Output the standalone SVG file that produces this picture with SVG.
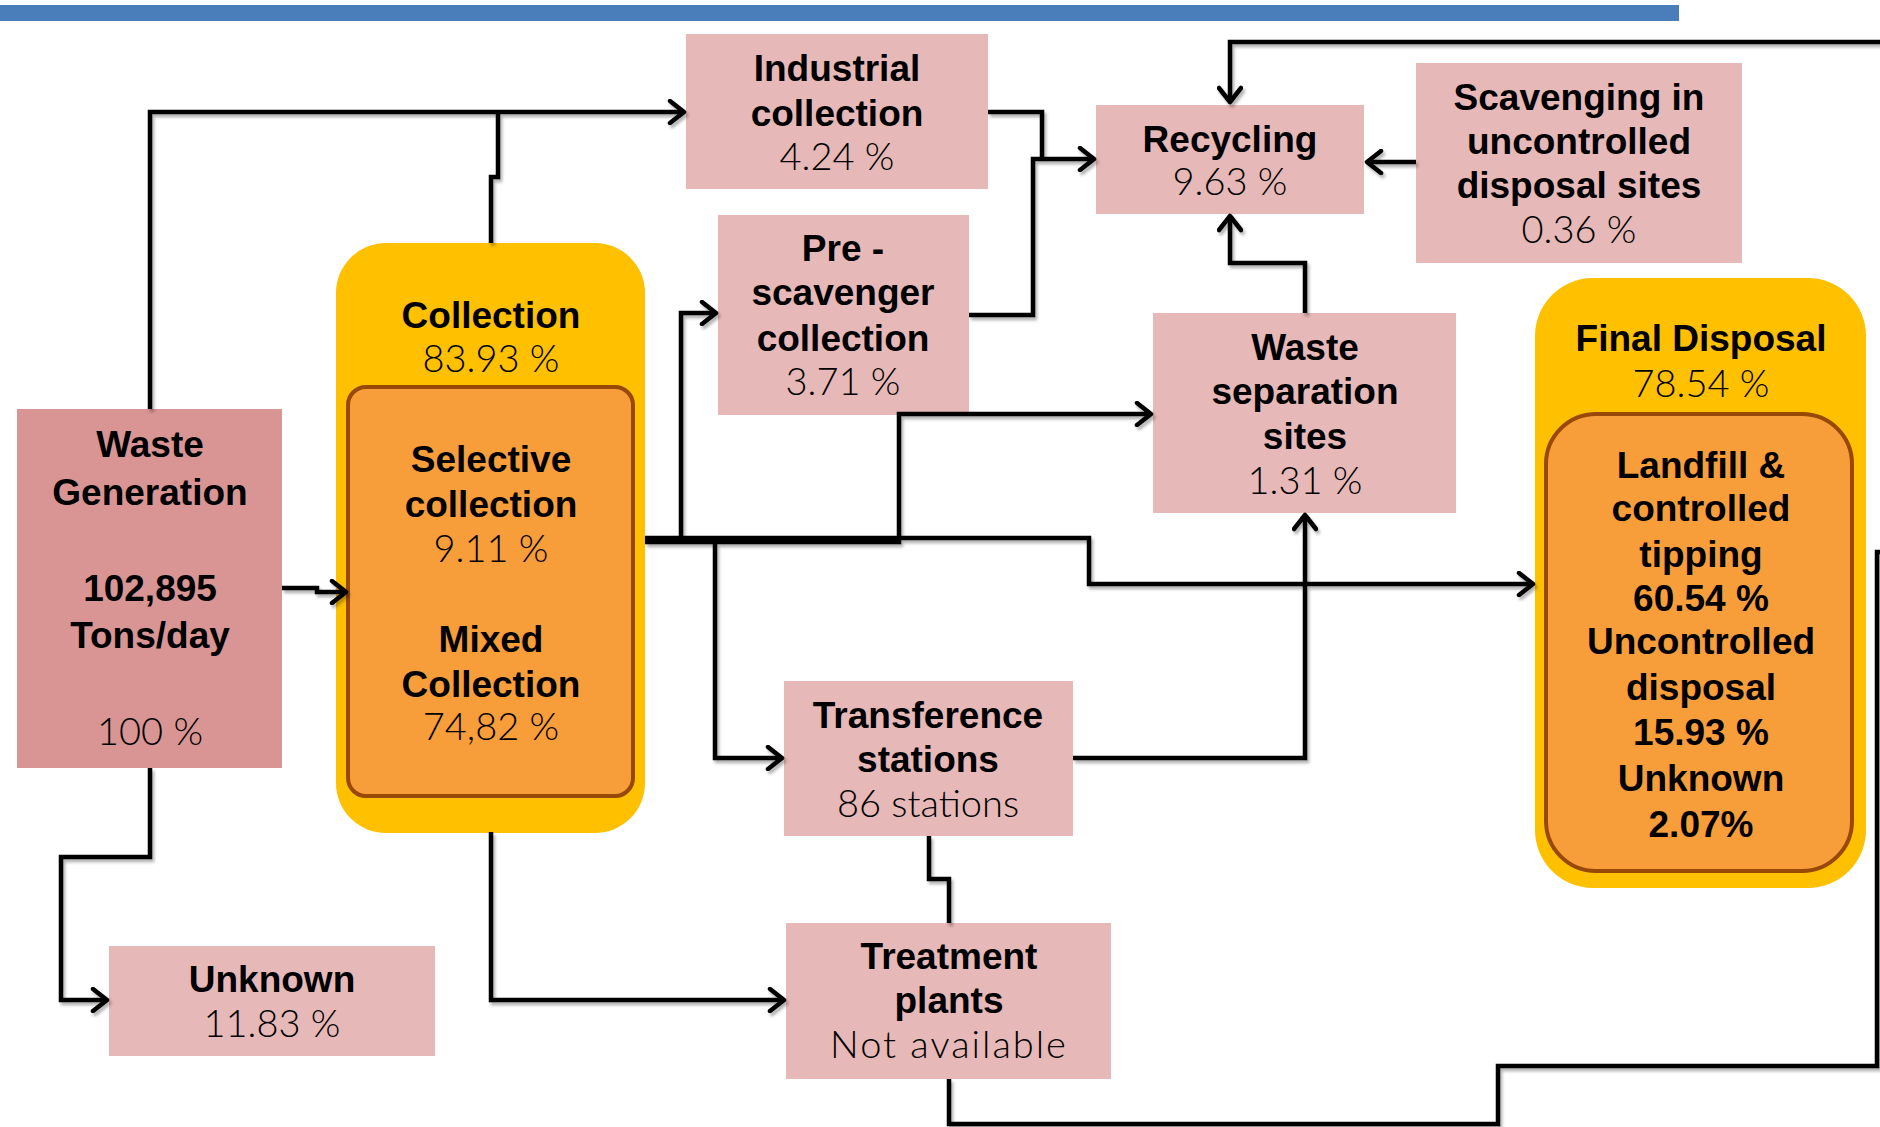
<svg xmlns="http://www.w3.org/2000/svg" width="1880" height="1127" viewBox="0 0 1880 1127">
<style>
.box{fill:#E6B8B7}
.gen{fill:#D99594}
.outer{fill:#FFC000}
.inner{fill:#F79D3A;stroke:#984807;stroke-width:4}
text{text-anchor:middle;fill:#000}
.b{font-family:"Liberation Sans",Arial,sans-serif;font-weight:bold;font-size:37px}
.l{font-family:Lato,"Liberation Sans",sans-serif;font-weight:300;font-size:38px}
.c path{fill:none;stroke:#000;stroke-width:4.5;stroke-linejoin:miter}
.a{marker-end:url(#arr)}
</style>
<defs>
<marker id="arr" viewBox="0 0 22 26" refX="19" refY="13" markerWidth="22" markerHeight="26" markerUnits="userSpaceOnUse" orient="auto">
<path d="M5,2 L19,13 L5,24" fill="none" stroke="#000" stroke-width="4.5" stroke-linecap="round" stroke-linejoin="round"/>
</marker>
<filter id="sh" x="-5%" y="-5%" width="110%" height="110%">
<feDropShadow dx="2" dy="3" stdDeviation="1.5" flood-color="#000" flood-opacity="0.3"/>
</filter>
</defs>
<rect x="0" y="5" width="1679" height="16" fill="#4A7EBB"/>

<g id="waste-generation">
<rect class="gen" x="17" y="409" width="265" height="359"/>
<text class="b" x="150" y="457" font-size="41">Waste</text>
<text class="b" x="150" y="505" font-size="41">Generation</text>
<text class="b" x="150" y="601" font-size="41">102,895</text>
<text class="b" x="150" y="648" font-size="41">Tons/day</text>
<text class="l" x="150" y="745" font-size="40">100 %</text>
</g>

<g id="collection">
<rect class="outer" x="336" y="243" width="309" height="590" rx="50"/>
<text class="b" x="491" y="328">Collection</text>
<text class="l" x="491" y="372">83.93 %</text>
<rect class="inner" x="348" y="387" width="285" height="409" rx="18"/>
<text class="b" x="491" y="472">Selective</text>
<text class="b" x="491" y="517">collection</text>
<text class="l" x="491" y="562">9.11 %</text>
<text class="b" x="491" y="652">Mixed</text>
<text class="b" x="491" y="697">Collection</text>
<text class="l" x="491" y="740">74,82 %</text>
</g>

<g id="industrial-collection">
<rect class="box" x="686" y="34" width="302" height="155"/>
<text class="b" x="837" y="81">Industrial</text>
<text class="b" x="837" y="126">collection</text>
<text class="l" x="837" y="170">4.24 %</text>
</g>

<g id="pre-scavenger-collection">
<rect class="box" x="718" y="215" width="251" height="200"/>
<text class="b" x="843" y="261">Pre -</text>
<text class="b" x="843" y="305">scavenger</text>
<text class="b" x="843" y="351">collection</text>
<text class="l" x="843" y="395">3.71 %</text>
</g>

<g id="recycling">
<rect class="box" x="1096" y="105" width="268" height="109"/>
<text class="b" x="1230" y="152">Recycling</text>
<text class="l" x="1230" y="195">9.63 %</text>
</g>

<g id="scavenging">
<rect class="box" x="1416" y="63" width="326" height="200"/>
<text class="b" x="1579" y="110">Scavenging in</text>
<text class="b" x="1579" y="154">uncontrolled</text>
<text class="b" x="1579" y="198">disposal sites</text>
<text class="l" x="1579" y="243">0.36 %</text>
</g>

<g id="waste-separation-sites">
<rect class="box" x="1153" y="313" width="303" height="200"/>
<text class="b" x="1305" y="360">Waste</text>
<text class="b" x="1305" y="404">separation</text>
<text class="b" x="1305" y="449">sites</text>
<text class="l" x="1305" y="494">1.31 %</text>
</g>

<g id="transference-stations">
<rect class="box" x="784" y="681" width="289" height="155"/>
<text class="b" x="928" y="728">Transference</text>
<text class="b" x="928" y="772">stations</text>
<text class="l" x="928" y="817">86 stations</text>
</g>

<g id="treatment-plants">
<rect class="box" x="786" y="923" width="325" height="156"/>
<text class="b" x="949" y="969">Treatment</text>
<text class="b" x="949" y="1013">plants</text>
<text class="l" x="949" y="1058" letter-spacing="2">Not available</text>
</g>

<g id="unknown">
<rect class="box" x="109" y="946" width="326" height="110"/>
<text class="b" x="272" y="992">Unknown</text>
<text class="l" x="272" y="1037">11.83 %</text>
</g>

<g id="final-disposal">
<rect class="outer" x="1535" y="278" width="331" height="610" rx="58"/>
<text class="b" x="1701" y="351" font-size="36">Final Disposal</text>
<text class="l" x="1701" y="397">78.54 %</text>
<rect class="inner" x="1546" y="414" width="306" height="457" rx="50"/>
<text class="b" x="1701" y="478" font-size="36">Landfill &amp;</text>
<text class="b" x="1701" y="521" font-size="36">controlled</text>
<text class="b" x="1701" y="567" font-size="36">tipping</text>
<text class="b" x="1701" y="611" font-size="36">60.54 %</text>
<text class="b" x="1701" y="654" font-size="36">Uncontrolled</text>
<text class="b" x="1701" y="700" font-size="36">disposal</text>
<text class="b" x="1701" y="745" font-size="36">15.93 %</text>
<text class="b" x="1701" y="791" font-size="36">Unknown</text>
<text class="b" x="1701" y="837" font-size="36">2.07%</text>
</g>

<g id="connectors" class="c" filter="url(#sh)">
<path class="a" d="M150,409 V112 H684"/>
<path d="M491,243 V177 H498 V112"/>
<path class="a" d="M282,588 H317 V592 H346"/>
<path class="a" d="M645,538 H1089 V584 H1533"/>
<path class="a" d="M645,542 H899 V414 H1151"/>
<path class="a" d="M681,540 V313 H716"/>
<path class="a" d="M715,540 V758 H782"/>
<path class="a" d="M1073,758 H1305 V515"/>
<path class="a" d="M1305,313 V263 H1230 V216"/>
<path d="M988,112 H1042 V159"/>
<path class="a" d="M969,315 H1033 V159 H1094"/>
<path class="a" d="M1416,162 H1367"/>
<path class="a" d="M949,1079 V1124 H1498 V1066 H1877 V552 H1895 V42 H1230 V102"/>
<path d="M929,836 V879 H949 V923"/>
<path class="a" d="M491,832 V1000 H784"/>
<path class="a" d="M150,768 V857 H61 V1000 H107"/>
</g>
</svg>
